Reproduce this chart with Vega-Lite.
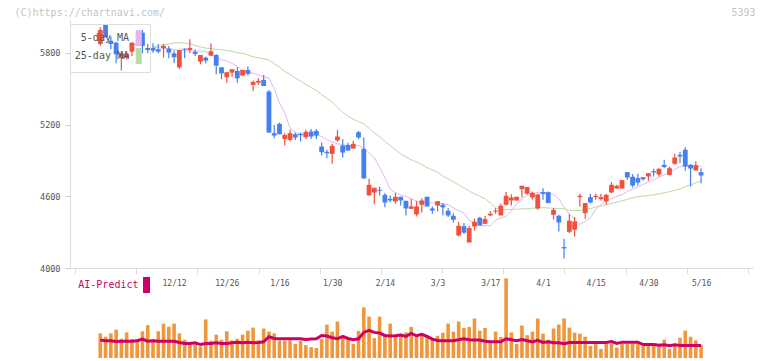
{
  "$schema": "https://vega.github.io/schema/vega-lite/v6.json",
  "background": "white",
  "padding": {"left": 14, "top": 7, "right": 4, "bottom": 2},
  "bounds": "flush",
  "spacing": 10,
  "resolve": {"scale": {"color": "independent"}, "legend": {"color": "independent"}},
  "config": {
    "view": {"stroke": null},
    "font": "DejaVu Sans Mono",
    "axis": {"labelFont": "DejaVu Sans Mono", "titleFont": "DejaVu Sans Mono", "grid": false},
    "legend": {"labelFont": "DejaVu Sans Mono"}
  },
  "datasets": {
    "d": [
      {"i":0,"open":5874,"high":6014,"low":5860,"close":5991,"volume":15.4,"ai":11.2},
      {"i":1,"open":6033,"high":6042,"low":5930,"close":5930,"volume":13.3,"ai":10.8},
      {"i":2,"open":5902,"high":5936,"low":5830,"close":5874,"volume":15.4,"ai":10.8},
      {"i":3,"open":5886,"high":5890,"low":5713,"close":5788,"volume":17.7,"ai":10.3},
      {"i":4,"open":5755,"high":5800,"low":5652,"close":5796,"volume":12.0,"ai":10.5},
      {"i":5,"open":5760,"high":5800,"low":5745,"close":5793,"volume":16.0,"ai":10.5},
      {"i":6,"open":5810,"high":5886,"low":5774,"close":5886,"volume":11.8,"ai":10.5},
      {"i":7,"open":5866,"high":5983,"low":5858,"close":5874,"volume":11.8,"ai":10.8},
      {"i":8,"open":5969,"high":5991,"low":5796,"close":5858,"volume":16.7,"ai":11.8},
      {"i":9,"open":5841,"high":5874,"low":5796,"close":5824,"volume":20.5,"ai":10.5},
      {"i":10,"open":5841,"high":5880,"low":5802,"close":5819,"volume":11.8,"ai":10.8,"ma5":5845,"ma25":5850},
      {"i":11,"open":5830,"high":5874,"low":5796,"close":5810,"volume":16.7,"ai":10.5,"ma5":5843,"ma25":5858},
      {"i":12,"open":5838,"high":5874,"low":5760,"close":5858,"volume":21.5,"ai":10.5,"ma5":5841,"ma25":5866},
      {"i":13,"open":5835,"high":5858,"low":5755,"close":5802,"volume":19.6,"ai":10.5,"ma5":5835,"ma25":5875},
      {"i":14,"open":5796,"high":5819,"low":5713,"close":5763,"volume":21.5,"ai":10.5,"ma5":5826,"ma25":5882},
      {"i":15,"open":5679,"high":5824,"low":5665,"close":5824,"volume":15.4,"ai":9.7,"ma5":5820,"ma25":5886},
      {"i":16,"open":5835,"high":5838,"low":5755,"close":5827,"volume":11.4,"ai":9.1,"ma5":5818,"ma25":5882},
      {"i":17,"open":5824,"high":5913,"low":5796,"close":5841,"volume":9.3,"ai":9.1,"ma5":5816,"ma25":5876},
      {"i":18,"open":5808,"high":5830,"low":5774,"close":5791,"volume":9.7,"ai":9.5,"ma5":5815,"ma25":5862},
      {"i":19,"open":5727,"high":5782,"low":5704,"close":5782,"volume":7.2,"ai":8.4,"ma5":5814,"ma25":5850},
      {"i":20,"open":5760,"high":5768,"low":5713,"close":5735,"volume":24.1,"ai":9.1,"ma5":5813,"ma25":5840},
      {"i":21,"open":5777,"high":5880,"low":5777,"close":5813,"volume":10.8,"ai":9.1,"ma5":5785,"ma25":5835},
      {"i":22,"open":5782,"high":5790,"low":5621,"close":5693,"volume":14.6,"ai":9.5,"ma5":5760,"ma25":5830},
      {"i":23,"open":5679,"high":5679,"low":5579,"close":5629,"volume":11.4,"ai":9.1,"ma5":5742,"ma25":5825},
      {"i":24,"open":5596,"high":5638,"low":5551,"close":5638,"volume":16.7,"ai":9.1,"ma5":5732,"ma25":5820},
      {"i":25,"open":5635,"high":5663,"low":5601,"close":5663,"volume":11.0,"ai":9.5,"ma5":5712,"ma25":5812},
      {"i":26,"open":5649,"high":5679,"low":5551,"close":5587,"volume":12.0,"ai":9.9,"ma5":5685,"ma25":5802},
      {"i":27,"open":5610,"high":5657,"low":5610,"close":5657,"volume":14.6,"ai":9.5,"ma5":5650,"ma25":5796},
      {"i":28,"open":5657,"high":5685,"low":5610,"close":5624,"volume":17.1,"ai":9.9,"ma5":5638,"ma25":5783},
      {"i":29,"open":5532,"high":5568,"low":5484,"close":5557,"volume":19.0,"ai":9.5,"ma5":5630,"ma25":5768},
      {"i":30,"open":5551,"high":5588,"low":5532,"close":5565,"volume":11.0,"ai":9.7,"ma5":5615,"ma25":5758},
      {"i":31,"open":5574,"high":5615,"low":5523,"close":5523,"volume":18.4,"ai":10.1,"ma5":5600,"ma25":5750},
      {"i":32,"open":5476,"high":5490,"low":5133,"close":5133,"volume":16.5,"ai":13.3,"ma5":5590,"ma25":5741},
      {"i":33,"open":5128,"high":5197,"low":5086,"close":5108,"volume":15.4,"ai":12.2,"ma5":5500,"ma25":5710},
      {"i":34,"open":5206,"high":5217,"low":5119,"close":5119,"volume":10.8,"ai":12.0,"ma5":5381,"ma25":5680},
      {"i":35,"open":5080,"high":5128,"low":5025,"close":5114,"volume":10.8,"ai":12.0,"ma5":5300,"ma25":5645},
      {"i":36,"open":5072,"high":5156,"low":5058,"close":5128,"volume":11.0,"ai":12.0,"ma5":5170,"ma25":5620},
      {"i":37,"open":5119,"high":5133,"low":5072,"close":5092,"volume":8.9,"ai":12.0,"ma5":5135,"ma25":5590},
      {"i":38,"open":5122,"high":5133,"low":5058,"close":5111,"volume":10.8,"ai":12.0,"ma5":5118,"ma25":5565},
      {"i":39,"open":5094,"high":5156,"low":5078,"close":5139,"volume":8.0,"ai":11.6,"ma5":5114,"ma25":5535},
      {"i":40,"open":5142,"high":5164,"low":5080,"close":5100,"volume":6.8,"ai":11.8,"ma5":5114,"ma25":5510},
      {"i":41,"open":5147,"high":5164,"low":5080,"close":5108,"volume":6.3,"ai":12.0,"ma5":5114,"ma25":5485},
      {"i":42,"open":5016,"high":5050,"low":4941,"close":4969,"volume":12.0,"ai":14.1,"ma5":5100,"ma25":5450},
      {"i":43,"open":4972,"high":4989,"low":4919,"close":4961,"volume":20.9,"ai":13.7,"ma5":5075,"ma25":5420},
      {"i":44,"open":4955,"high":5039,"low":4872,"close":5022,"volume":16.5,"ai":12.7,"ma5":5055,"ma25":5390},
      {"i":45,"open":5067,"high":5156,"low":5058,"close":5100,"volume":22.8,"ai":12.0,"ma5":5040,"ma25":5345},
      {"i":46,"open":5025,"high":5080,"low":4925,"close":4966,"volume":12.9,"ai":13.5,"ma5":5030,"ma25":5305},
      {"i":47,"open":5030,"high":5047,"low":4983,"close":4983,"volume":12.4,"ai":12.2,"ma5":5022,"ma25":5270},
      {"i":48,"open":4999,"high":5064,"low":4999,"close":5039,"volume":8.9,"ai":11.4,"ma5":5016,"ma25":5245},
      {"i":49,"open":5136,"high":5147,"low":5078,"close":5092,"volume":16.9,"ai":12.0,"ma5":5025,"ma25":5225},
      {"i":50,"open":4997,"high":5092,"low":4749,"close":4749,"volume":31.6,"ai":16.0,"ma5":5000,"ma25":5205},
      {"i":51,"open":4607,"high":4746,"low":4607,"close":4696,"volume":25.9,"ai":17.3,"ma5":4960,"ma25":5170},
      {"i":52,"open":4632,"high":4671,"low":4534,"close":4671,"volume":12.4,"ai":16.0,"ma5":4925,"ma25":5130},
      {"i":53,"open":4654,"high":4682,"low":4607,"close":4646,"volume":25.9,"ai":15.6,"ma5":4840,"ma25":5100},
      {"i":54,"open":4612,"high":4626,"low":4509,"close":4548,"volume":13.9,"ai":14.1,"ma5":4760,"ma25":5060},
      {"i":55,"open":4579,"high":4607,"low":4551,"close":4565,"volume":21.5,"ai":13.7,"ma5":4660,"ma25":5025},
      {"i":56,"open":4557,"high":4629,"low":4540,"close":4596,"volume":13.5,"ai":13.9,"ma5":4630,"ma25":4990},
      {"i":57,"open":4596,"high":4596,"low":4523,"close":4565,"volume":15.2,"ai":14.3,"ma5":4610,"ma25":4955},
      {"i":58,"open":4562,"high":4562,"low":4440,"close":4498,"volume":16.0,"ai":13.5,"ma5":4600,"ma25":4930},
      {"i":59,"open":4495,"high":4579,"low":4495,"close":4515,"volume":19.4,"ai":15.4,"ma5":4580,"ma25":4905},
      {"i":60,"open":4448,"high":4562,"low":4431,"close":4515,"volume":13.5,"ai":13.9,"ma5":4557,"ma25":4888},
      {"i":61,"open":4529,"high":4584,"low":4465,"close":4565,"volume":15.0,"ai":14.8,"ma5":4552,"ma25":4865},
      {"i":62,"open":4596,"high":4596,"low":4515,"close":4515,"volume":13.5,"ai":13.5,"ma5":4548,"ma25":4840},
      {"i":63,"open":4498,"high":4515,"low":4454,"close":4481,"volume":12.4,"ai":11.8,"ma5":4545,"ma25":4821},
      {"i":64,"open":4523,"high":4559,"low":4473,"close":4559,"volume":13.9,"ai":11.0,"ma5":4543,"ma25":4800},
      {"i":65,"open":4529,"high":4543,"low":4440,"close":4507,"volume":15.8,"ai":10.8,"ma5":4538,"ma25":4770},
      {"i":66,"open":4479,"high":4501,"low":4426,"close":4440,"volume":21.5,"ai":10.8,"ma5":4530,"ma25":4745},
      {"i":67,"open":4437,"high":4459,"low":4381,"close":4404,"volume":16.5,"ai":10.8,"ma5":4505,"ma25":4720},
      {"i":68,"open":4272,"high":4387,"low":4264,"close":4353,"volume":22.8,"ai":11.4,"ma5":4480,"ma25":4695},
      {"i":69,"open":4350,"high":4376,"low":4286,"close":4295,"volume":18.8,"ai":12.0,"ma5":4460,"ma25":4670},
      {"i":70,"open":4214,"high":4353,"low":4214,"close":4334,"volume":19.4,"ai":11.4,"ma5":4400,"ma25":4645},
      {"i":71,"open":4348,"high":4412,"low":4312,"close":4387,"volume":24.7,"ai":11.2,"ma5":4375,"ma25":4620},
      {"i":72,"open":4420,"high":4429,"low":4356,"close":4356,"volume":17.1,"ai":11.2,"ma5":4355,"ma25":4600},
      {"i":73,"open":4370,"high":4437,"low":4370,"close":4409,"volume":18.8,"ai":10.5,"ma5":4353,"ma25":4580},
      {"i":74,"open":4440,"high":4476,"low":4434,"close":4454,"volume":9.7,"ai":10.1,"ma5":4353,"ma25":4545},
      {"i":75,"open":4473,"high":4501,"low":4454,"close":4481,"volume":16.5,"ai":10.1,"ma5":4400,"ma25":4504},
      {"i":76,"open":4440,"high":4537,"low":4440,"close":4521,"volume":13.1,"ai":10.1,"ma5":4418,"ma25":4490},
      {"i":77,"open":4529,"high":4635,"low":4523,"close":4604,"volume":49.8,"ai":12.0,"ma5":4431,"ma25":4490},
      {"i":78,"open":4565,"high":4618,"low":4523,"close":4590,"volume":16.0,"ai":11.4,"ma5":4480,"ma25":4490},
      {"i":79,"open":4565,"high":4596,"low":4565,"close":4596,"volume":8.9,"ai":10.8,"ma5":4535,"ma25":4492},
      {"i":80,"open":4660,"high":4688,"low":4593,"close":4688,"volume":20.3,"ai":11.6,"ma5":4580,"ma25":4495},
      {"i":81,"open":4621,"high":4677,"low":4612,"close":4677,"volume":14.3,"ai":10.8,"ma5":4605,"ma25":4495},
      {"i":82,"open":4590,"high":4640,"low":4571,"close":4629,"volume":16.5,"ai":10.1,"ma5":4622,"ma25":4500},
      {"i":83,"open":4498,"high":4621,"low":4487,"close":4615,"volume":24.7,"ai":11.0,"ma5":4632,"ma25":4504},
      {"i":84,"open":4635,"high":4668,"low":4571,"close":4618,"volume":15.2,"ai":9.7,"ma5":4630,"ma25":4504},
      {"i":85,"open":4635,"high":4640,"low":4543,"close":4543,"volume":11.4,"ai":10.1,"ma5":4628,"ma25":4502},
      {"i":86,"open":4445,"high":4501,"low":4404,"close":4487,"volume":18.4,"ai":9.5,"ma5":4615,"ma25":4500},
      {"i":87,"open":4437,"high":4445,"low":4306,"close":4381,"volume":20.9,"ai":9.5,"ma5":4580,"ma25":4497},
      {"i":88,"open":4175,"high":4245,"low":4080,"close":4164,"volume":24.7,"ai":8.9,"ma5":4510,"ma25":4495},
      {"i":89,"open":4303,"high":4451,"low":4292,"close":4395,"volume":19.0,"ai":9.7,"ma5":4450,"ma25":4485},
      {"i":90,"open":4320,"high":4426,"low":4264,"close":4389,"volume":15.8,"ai":9.7,"ma5":4404,"ma25":4479},
      {"i":91,"open":4593,"high":4621,"low":4515,"close":4604,"volume":15.2,"ai":9.7,"ma5":4365,"ma25":4482},
      {"i":92,"open":4459,"high":4543,"low":4412,"close":4543,"volume":13.3,"ai":9.7,"ma5":4390,"ma25":4490},
      {"i":93,"open":4593,"high":4621,"low":4540,"close":4548,"volume":7.6,"ai":9.7,"ma5":4420,"ma25":4497},
      {"i":94,"open":4593,"high":4621,"low":4571,"close":4604,"volume":8.9,"ai":9.7,"ma5":4490,"ma25":4510},
      {"i":95,"open":4576,"high":4621,"low":4565,"close":4593,"volume":5.7,"ai":9.7,"ma5":4530,"ma25":4520},
      {"i":96,"open":4557,"high":4621,"low":4529,"close":4612,"volume":8.9,"ai":9.7,"ma5":4565,"ma25":4529},
      {"i":97,"open":4632,"high":4718,"low":4626,"close":4696,"volume":8.9,"ai":10.3,"ma5":4580,"ma25":4540},
      {"i":98,"open":4665,"high":4696,"low":4660,"close":4688,"volume":6.5,"ai":9.1,"ma5":4600,"ma25":4552},
      {"i":99,"open":4665,"high":4735,"low":4665,"close":4735,"volume":8.9,"ai":9.9,"ma5":4612,"ma25":4562},
      {"i":100,"open":4802,"high":4802,"low":4738,"close":4757,"volume":8.9,"ai":9.9,"ma5":4640,"ma25":4575},
      {"i":101,"open":4763,"high":4785,"low":4674,"close":4690,"volume":8.9,"ai":9.9,"ma5":4660,"ma25":4588},
      {"i":102,"open":4752,"high":4788,"low":4690,"close":4715,"volume":8.9,"ai":9.9,"ma5":4680,"ma25":4596},
      {"i":103,"open":4760,"high":4760,"low":4729,"close":4743,"volume":7.6,"ai":8.4,"ma5":4700,"ma25":4602},
      {"i":104,"open":4766,"high":4793,"low":4729,"close":4793,"volume":7.6,"ai":8.4,"ma5":4720,"ma25":4607},
      {"i":105,"open":4810,"high":4830,"low":4766,"close":4799,"volume":7.6,"ai":8.4,"ma5":4738,"ma25":4612},
      {"i":106,"open":4782,"high":4835,"low":4766,"close":4830,"volume":8.9,"ai":8.0,"ma5":4760,"ma25":4620},
      {"i":107,"open":4863,"high":4905,"low":4835,"close":4846,"volume":11.4,"ai":8.2,"ma5":4780,"ma25":4628},
      {"i":108,"open":4779,"high":4849,"low":4774,"close":4835,"volume":5.7,"ai":7.6,"ma5":4800,"ma25":4638},
      {"i":109,"open":4872,"high":4955,"low":4863,"close":4924,"volume":7.6,"ai":8.2,"ma5":4825,"ma25":4650},
      {"i":110,"open":4947,"high":4972,"low":4877,"close":4933,"volume":12.7,"ai":7.8,"ma5":4850,"ma25":4660},
      {"i":111,"open":4989,"high":5011,"low":4813,"close":4849,"volume":17.1,"ai":7.8,"ma5":4855,"ma25":4680},
      {"i":112,"open":4863,"high":4871,"low":4682,"close":4832,"volume":13.3,"ai":7.8,"ma5":4855,"ma25":4695},
      {"i":113,"open":4816,"high":4894,"low":4816,"close":4860,"volume":11.0,"ai":7.8,"ma5":4852,"ma25":4712},
      {"i":114,"open":4802,"high":4835,"low":4710,"close":4774,"volume":8.0,"ai":7.8,"ma5":4849,"ma25":4730}
    ]
  },
  "vconcat": [
    {
      "width": 683,
      "height": 248,
      "data": {"name": "d"},
      "encoding": {
        "x": {
          "field": "i", "type": "quantitative",
          "scale": {"domain": [-4.8, 122.9], "nice": false, "zero": false},
          "axis": {
            "values": [-4.79, 6.82, 18.43, 30.04, 41.64, 53.25, 64.86, 76.47, 88.07, 99.68, 111.29, 122.9, 14, 24, 34, 44, 54, 64, 74, 84, 94, 104, 114],
            "domainColor": "#dddddd", "domainWidth": 1,
            "tickColor": "#dddddd", "tickSize": 6, "tickWidth": 1,
            "tickOpacity": {"condition": {"test": "datum.value % 1 === 0", "value": 0}, "value": 1},
            "labelExpr": "datum.value % 1 === 0 ? ['12/12','12/26','1/16','1/30','2/14','3/3','3/17','4/1','4/15','4/30','5/16'][(datum.value - 14) / 10] : ''",
            "labelFontSize": 8, "labelColor": "#555555", "labelPadding": 5,
            "labelFlush": false, "labelOverlap": false, "labelBound": false,
            "title": null, "grid": false
          }
        }
      },
      "layer": [
        {
          "mark": {"type": "line", "strokeWidth": 1},
          "encoding": {
            "y": {
              "field": "ma25", "type": "quantitative",
              "scale": {"domain": [4000, 6075], "nice": false, "zero": false},
              "axis": {
                "orient": "right", "labels": false, "ticks": false, "domain": false, "grid": false,
                "title": "5393", "titleAngle": 0, "titleX": 2, "titleY": -8,
                "titleAlign": "right", "titleBaseline": "middle",
                "titleFontSize": 10, "titleFontWeight": "normal", "titleColor": "#c4c4c4"
              }
            },
            "color": {
              "datum": "25-day MA", "type": "nominal",
              "scale": {"domain": ["5-day MA", "25-day MA"], "range": ["#e6b6f0", "#b6dca6"]},
              "legend": {
                "orient": "none", "legendX": 0, "legendY": 4,
                "title": null, "direction": "vertical",
                "padding": 6, "strokeColor": "#dddddd",
                "symbolType": "M-0.34,-1H0.34V1H-0.34Z", "symbolSize": 225,
                "symbolStrokeWidth": 1, "symbolOffset": 54.7,
                "labelAlign": "right", "labelOffset": -17.7,
                "labelFontSize": 10, "labelColor": "#555555", "rowPadding": -3,
                "encode": {
                  "symbols": {
                    "update": {
                      "fill": {"signal": "datum.value === '5-day MA' ? '#e6b6f0' : '#b6dca6'"},
                      "stroke": {"value": "#555555"},
                      "strokeWidth": {"value": 1},
                      "opacity": {"value": 1}
                    }
                  }
                }
              }
            }
          }
        },
        {
          "mark": {"type": "line", "strokeWidth": 1},
          "encoding": {
            "y": {
              "field": "ma5", "type": "quantitative",
              "axis": {
                "orient": "left", "values": [4000, 4600, 5200, 5800], "format": "d",
                "tickSize": 5, "tickColor": "#cccccc", "domainColor": "#dddddd",
                "labelFontSize": 8.5, "labelColor": "#555555", "labelPadding": 5, "grid": false,
                "title": "(C)https://chartnavi.com/", "titleAngle": 0, "titleX": -56, "titleY": -8,
                "titleAlign": "left", "titleBaseline": "middle",
                "titleFontSize": 10, "titleFontWeight": "normal", "titleColor": "#c4c4c4"
              }
            },
            "color": {"datum": "5-day MA", "type": "nominal"}
          }
        },
        {
          "mark": {"type": "rule", "strokeWidth": 1.2},
          "encoding": {
            "y": {"field": "low", "type": "quantitative", "axis": null},
            "y2": {"field": "high"},
            "color": {"condition": {"test": "datum.close >= datum.open", "value": "#f0503c"}, "value": "#4680f0"}
          }
        },
        {
          "mark": {"type": "bar", "size": 4.8},
          "encoding": {
            "y": {"field": "open", "type": "quantitative", "axis": null},
            "y2": {"field": "close"},
            "color": {"condition": {"test": "datum.close >= datum.open", "value": "#f0503c"}, "value": "#4680f0"}
          }
        }
      ],
      "resolve": {"axis": {"y": "independent"}}
    },
    {
      "width": 683,
      "height": 80,
      "data": {"name": "d"},
      "encoding": {
        "x": {
          "field": "i", "type": "quantitative",
          "scale": {"domain": [-4.8, 122.9], "nice": false, "zero": false},
          "axis": null
        }
      },
      "layer": [
        {
          "mark": {"type": "bar", "size": 3.6, "color": "#f0963c"},
          "encoding": {
            "y": {
              "field": "volume", "type": "quantitative",
              "scale": {"domain": [0, 50], "nice": false},
              "axis": {
                "orient": "right", "values": [0, 10, 20, 30, 40, 50],
                "ticks": false, "tickSize": 0, "domain": false, "grid": false,
                "labelPadding": 2, "labelColor": "#cc0066", "labelFontSize": 8.5, "title": null
              }
            }
          }
        },
        {
          "mark": {"type": "line", "strokeWidth": 3},
          "encoding": {
            "y": {"field": "ai", "type": "quantitative", "axis": null},
            "color": {
              "datum": "AI-Predict", "type": "nominal",
              "scale": {"range": ["#cc0066"]},
              "legend": {
                "orient": "none", "legendX": 6, "legendY": -1,
                "title": null, "padding": 0,
                "symbolType": "M-0.44,-1H0.44V1H-0.44Z", "symbolSize": 256,
                "symbolStrokeWidth": 0, "symbolOffset": 62.5,
                "labelAlign": "right", "labelOffset": -16,
                "labelFontSize": 10, "labelColor": "#cc0066",
                "encode": {
                  "symbols": {
                    "update": {
                      "fill": {"value": "#cc0066"},
                      "stroke": {"value": "transparent"},
                      "strokeWidth": {"value": 0},
                      "opacity": {"value": 1}
                    }
                  }
                }
              }
            }
          }
        }
      ]
    }
  ]
}
